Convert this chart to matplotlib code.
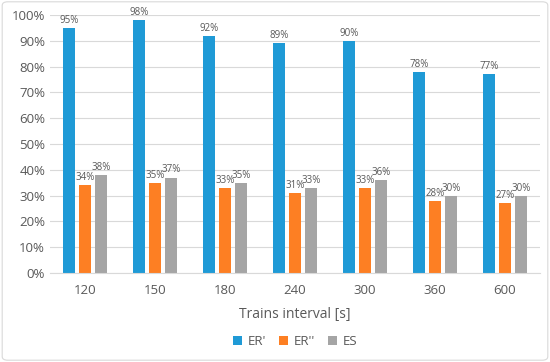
import numpy as np
import matplotlib
matplotlib.use('Agg')
import matplotlib.pyplot as plt
from matplotlib.patches import FancyBboxPatch

intervals = ["120", "150", "180", "240", "300", "360", "600"]
er1 = [95, 98, 92, 89, 90, 78, 77]
er2 = [34, 35, 33, 31, 33, 28, 27]
es = [38, 37, 35, 33, 36, 30, 30]
series_names = ["ER'", "ER''", "ES"]
colors = ["#1f9ad6", "#fd7f23", "#a5a5a5"]

plt.rcParams['font.family'] = ['Open Sans', 'DejaVu Sans']
fig = plt.figure(figsize=(5.5, 3.62), dpi=100)
ax = fig.add_axes([50 / 550, 1 - 273 / 362, 490 / 550, 258 / 362])

x = np.arange(len(intervals))
w = 0.17
off = 0.23
for k, (vals, c, lab) in enumerate(zip([er1, er2, es], colors, series_names)):
    pos = x + (k - 1) * off
    ax.bar(pos, vals, width=w, color=c, label=lab, zorder=2)
    for p, v in zip(pos, vals):
        ax.text(p, v + 0.8, f"{v}%", ha='center', va='bottom', fontsize=7, color='#595959')

ax.set_xlim(-0.5, len(intervals) - 0.5)
ax.set_ylim(0, 100)
ax.set_yticks(range(0, 101, 10))
ax.set_yticklabels([f"{t}%" for t in range(0, 101, 10)])
ax.set_xticks(x)
ax.set_xticklabels(intervals)
ax.tick_params(axis='both', length=0, colors='#595959', labelsize=9.5)
ax.tick_params(axis='x', pad=8)
ax.grid(axis='y', color='#d9d9d9', linewidth=0.8, zorder=0)
for s in ['top', 'right', 'left']:
    ax.spines[s].set_visible(False)
ax.spines['bottom'].set_color('#d9d9d9')
ax.set_xlabel("Trains interval [s]", color='#595959', fontsize=10, labelpad=7)

ax.legend(loc='upper center', bbox_to_anchor=(0.5, -0.195), ncol=3, frameon=False,
          fontsize=9.5, labelcolor='#595959', handlelength=0.7, handleheight=0.7,
          columnspacing=1.0, handletextpad=0.4)

fig.patches.append(FancyBboxPatch((0.004, 0.005), 0.992, 0.99, boxstyle="round,pad=0,rounding_size=0.01",
                                  transform=fig.transFigure, fill=False, edgecolor='#d9d9d9', linewidth=0.8))

fig.savefig("out.png", dpi=100)
